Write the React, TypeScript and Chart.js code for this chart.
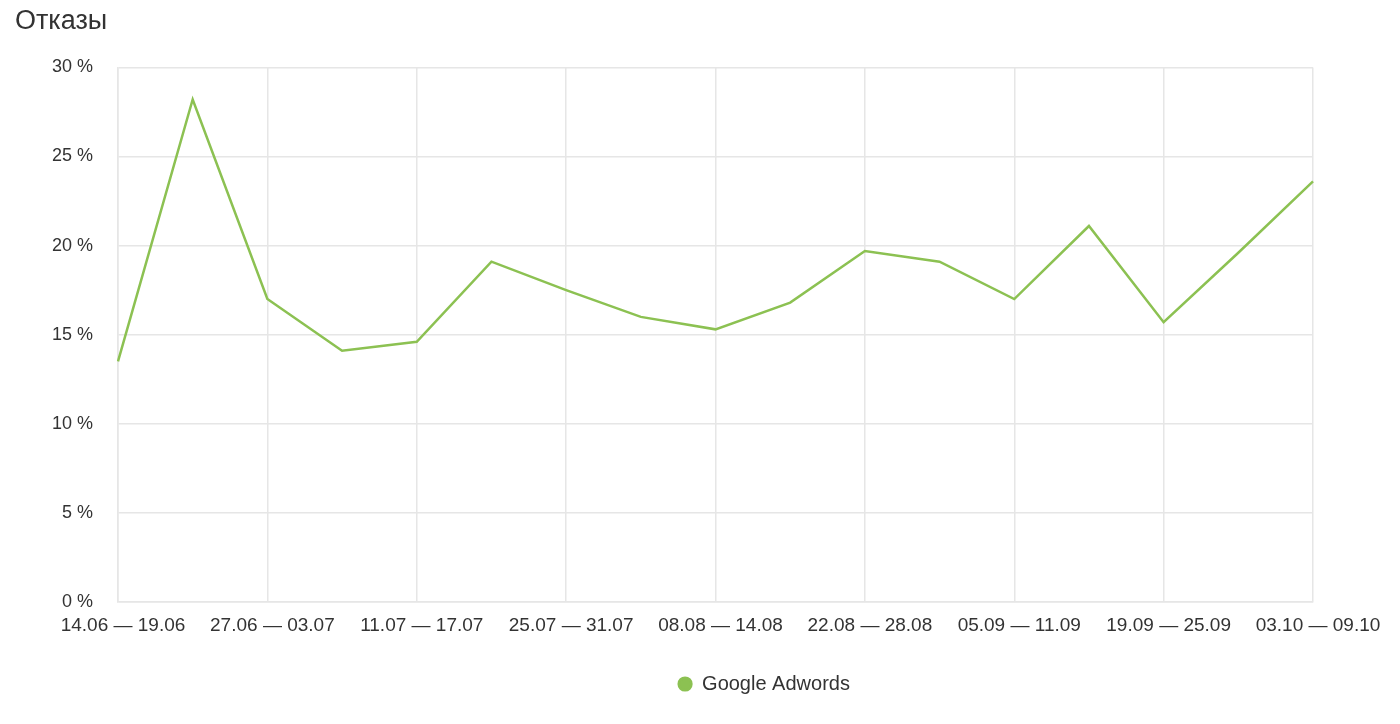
import { useEffect, useRef } from "react"
import { Chart, registerables } from "chart.js"

Chart.register(...registerables)

const weeks = [
  "14.06 — 19.06",
  "20.06 — 26.06",
  "27.06 — 03.07",
  "04.07 — 10.07",
  "11.07 — 17.07",
  "18.07 — 24.07",
  "25.07 — 31.07",
  "01.08 — 07.08",
  "08.08 — 14.08",
  "15.08 — 21.08",
  "22.08 — 28.08",
  "29.08 — 04.09",
  "05.09 — 11.09",
  "12.09 — 18.09",
  "19.09 — 25.09",
  "26.09 — 02.10",
  "03.10 — 09.10",
]

const bounceRate = [
  13.5, 28.2, 17.0, 14.1, 14.6, 19.1, 17.5, 16.0, 15.3, 16.8, 19.7, 19.1, 17.0, 21.1, 15.7, 19.6, 23.6,
]

const seriesName = "Google Adwords"
const chartTitle = "Отказы"

const GREEN = "#8cc152"
const GRID = "#e6e6e6"
const TEXT = "#333333"
const FONT = "'Liberation Sans', Arial, sans-serif"

// the legend in the original sits a bit right of centre
const legendShift = {
  id: "legendShift",
  afterLayout(chart: any) {
    const legend = chart.legend
    if (!legend) return
    legend.left += 100
    legend.right += 100
  },
}

export default function App() {
  const chartRef = useRef<HTMLCanvasElement>(null)
  const chartInstance = useRef<Chart | null>(null)

  useEffect(() => {
    if (!chartRef.current) return
    if (chartInstance.current) chartInstance.current.destroy()

    const ctx = chartRef.current.getContext("2d")
    if (!ctx) return

    chartInstance.current = new Chart(ctx, {
      type: "line",
      data: {
        labels: weeks,
        datasets: [
          {
            label: seriesName,
            data: bounceRate,
            borderColor: GREEN,
            backgroundColor: GREEN,
            borderWidth: 2.5,
            pointRadius: 0,
            tension: 0,
          },
        ],
      },
      plugins: [legendShift],
      options: {
        animation: false,
        responsive: true,
        maintainAspectRatio: false,
        layout: {
          padding: { left: 15, right: 87, top: 0, bottom: 20 },
        },
        plugins: {
          title: {
            display: true,
            text: chartTitle,
            align: "start",
            color: TEXT,
            font: { family: FONT, size: 27, weight: "normal" },
            padding: { top: 5, bottom: 30 },
          },
          legend: {
            position: "bottom",
            labels: {
              usePointStyle: true,
              pointStyle: "circle",
              boxWidth: 14,
              boxHeight: 9,
              color: TEXT,
              font: { family: FONT, size: 20 },
            },
          },
          tooltip: { enabled: false },
        },
        scales: {
          x: {
            afterFit: (scale: any) => {
              scale.height = 62
            },
            grid: {
              color: GRID,
              lineWidth: 1.5,
              drawTicks: false,
            },
            border: { color: GRID, width: 1.5 },
            ticks: {
              autoSkip: false,
              maxRotation: 0,
              padding: 12,
              labelOffset: 5,
              color: TEXT,
              font: { family: FONT, size: 19 },
              callback: function (this: any, _value: any, index: number) {
                return index % 2 === 0 ? weeks[index] : null
              },
            },
          },
          y: {
            min: 0,
            max: 30,
            afterFit: (scale: any) => {
              scale.width = 103
            },
            grid: {
              color: GRID,
              lineWidth: 1.5,
              drawTicks: false,
            },
            border: { color: GRID, width: 1.5 },
            ticks: {
              stepSize: 5,
              padding: 25,
              color: TEXT,
              font: { family: FONT, size: 18 },
              callback: (value: any) => `${value} %`,
            },
          },
        },
      },
    })

    return () => {
      if (chartInstance.current) {
        chartInstance.current.destroy()
        chartInstance.current = null
      }
    }
  }, [])

  return (
    <div style={{ position: "fixed", left: 0, top: 0, width: 1400, height: 724, background: "#fff" }}>
      <canvas ref={chartRef} />
    </div>
  )
}
